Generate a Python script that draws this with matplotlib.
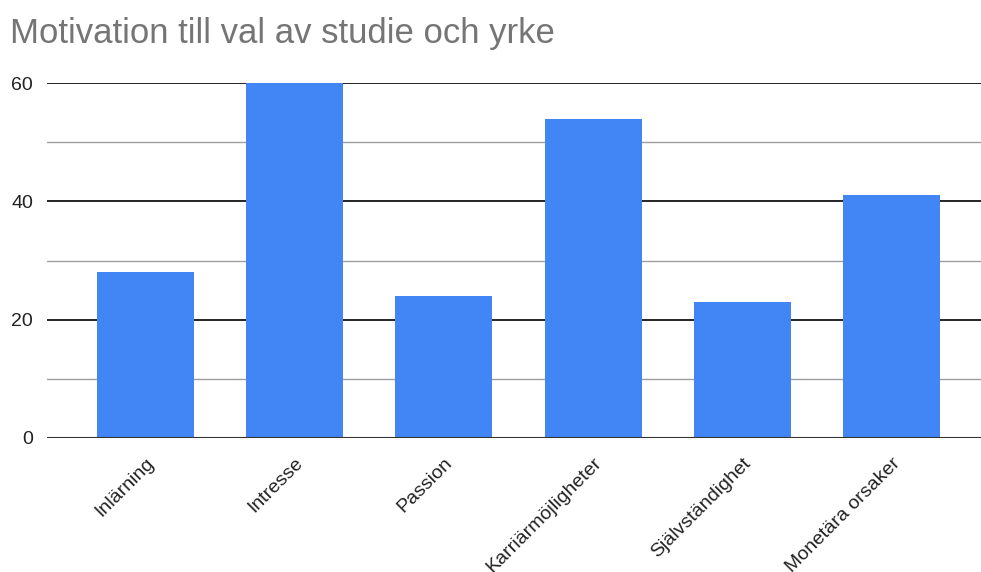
import matplotlib.pyplot as plt
from matplotlib.ticker import MultipleLocator

plt.rcParams['font.family'] = ['Liberation Sans', 'DejaVu Sans']

categories = ['Inlärning', 'Intresse', 'Passion', 'Karriärmöjligheter',
              'Självständighet', 'Monetära orsaker']
values = [28, 60, 24, 54, 23, 41]

fig = plt.figure(figsize=(9.81, 5.72), dpi=100)
ax = fig.add_axes([47 / 981, 1 - 438 / 572, 1 - 47 / 981, (438 - 83) / 572])

x = range(len(categories))
ax.bar(x, values, width=0.65, color='#4285f4', zorder=3)

ax.set_ylim(0, 60)
ax.set_xlim(-0.66, 5.6)
ax.yaxis.set_major_locator(MultipleLocator(20))
ax.yaxis.set_minor_locator(MultipleLocator(10))
ax.grid(axis='y', which='major', color='#000000', linewidth=1.2, zorder=1)
ax.grid(axis='y', which='minor', color='#9e9e9e', linewidth=1.0, zorder=1)
ax.axhline(0, color='#333333', linewidth=1.5, zorder=4)

for s in ax.spines.values():
    s.set_visible(False)
ax.tick_params(axis='both', which='both', length=0, labelsize=14, colors='#222222')
ax.tick_params(axis='y', pad=10)
ax.set_xticks(list(x))
ax.set_xticklabels(categories, rotation=45, ha='right', rotation_mode='anchor')
ax.tick_params(axis='x', pad=12)
for lbl in ax.get_xticklabels():
    lbl.set_x(lbl.get_position()[0] + 0.07)

fig.text(10 / 981, 1 - 33 / 572, 'Motivation till val av studie och yrke',
         fontsize=25, color='#757575', va='center', ha='left')

fig.savefig('out.png', dpi=100)
